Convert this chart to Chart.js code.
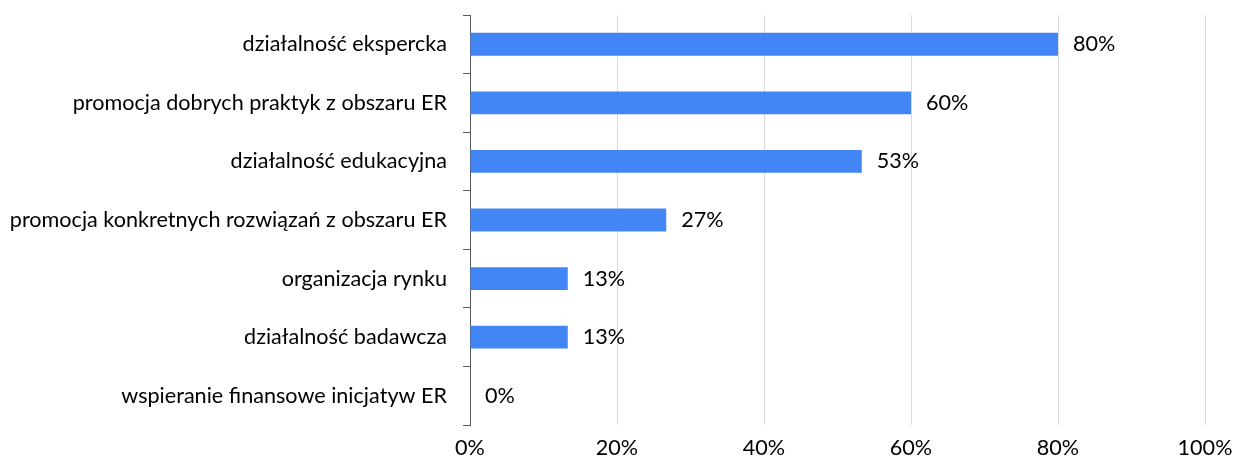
<!DOCTYPE html>
<html lang="pl">
<head>
<meta charset="UTF-8">
<title>Działalność</title>
<script src="https://cdn.jsdelivr.net/npm/chart.js"></script>
<style>
  html, body { margin: 0; padding: 0; background: #fff; }
  #wrap { width: 1236px; height: 461px; position: relative; }
</style>
</head>
<body>
<div id="wrap"><canvas id="chartCanvas"></canvas></div>
<script>
// data
const categories = [
    'działalność ekspercka',
    'promocja dobrych praktyk z obszaru ER',
    'działalność edukacyjna',
    'promocja konkretnych rozwiązań z obszaru ER',
    'organizacja rynku',
    'działalność badawcza',
    'wspieranie finansowe inicjatyw ER'
];
const shares = [80, 60, 53.3, 26.7, 13.3, 13.3, 0];
const xTicks = [0, 20, 40, 60, 80, 100];

const FONT_SIZE = 21.6;

// value labels to the right of each bar
const valueLabels = {
    id: 'valueLabels',
    afterDatasetsDraw(chart) {
        const ctx = chart.ctx;
        const meta = chart.getDatasetMeta(0);
        ctx.save();
        ctx.font = FONT_SIZE + 'px Lato';
        ctx.fillStyle = '#000';
        ctx.textBaseline = 'middle';
        ctx.textAlign = 'left';
        meta.data.forEach((bar, i) => {
            ctx.fillText(Math.round(shares[i]) + '%', bar.x + 15, bar.y);
        });
        ctx.restore();
    }
};

const ctx = document.getElementById('chartCanvas').getContext('2d');
new Chart(ctx, {
    type: 'bar',
    data: {
        labels: categories,
        datasets: [{
            data: shares,
            backgroundColor: '#4285f4',
            barPercentage: 0.39,
            categoryPercentage: 1
        }]
    },
    plugins: [valueLabels],
    options: {
        indexAxis: 'y',
        responsive: true,
        maintainAspectRatio: false,
        animation: false,
        layout: { padding: { top: 15, right: 31, bottom: 0, left: 0 } },
        plugins: {
            legend: { display: false },
            tooltip: { enabled: false }
        },
        scales: {
            x: {
                min: 0,
                max: 100,
                afterBuildTicks: scale => { scale.ticks = xTicks.map(v => ({ value: v })); },
                afterFit: scale => {
                    scale.paddingLeft = 0;
                    scale.paddingRight = 0;
                    scale.height = 36;
                },
                ticks: {
                    callback: v => v + '%',
                    color: '#000',
                    font: { family: 'Lato', size: FONT_SIZE },
                    padding: 10
                },
                grid: { color: '#d9d9d9', drawTicks: false },
                border: { display: false }
            },
            y: {
                afterFit: scale => {
                    scale.width = 470;
                    scale.paddingTop = 0;
                    scale.paddingBottom = 0;
                },
                ticks: {
                    color: '#000',
                    font: { family: 'Lato', size: FONT_SIZE },
                    padding: 16
                },
                grid: {
                    offset: true,
                    drawOnChartArea: false,
                    tickLength: 7,
                    color: '#595959'
                },
                border: { color: '#595959', width: 1 }
            }
        }
    }
});
</script>
</body>
</html>
